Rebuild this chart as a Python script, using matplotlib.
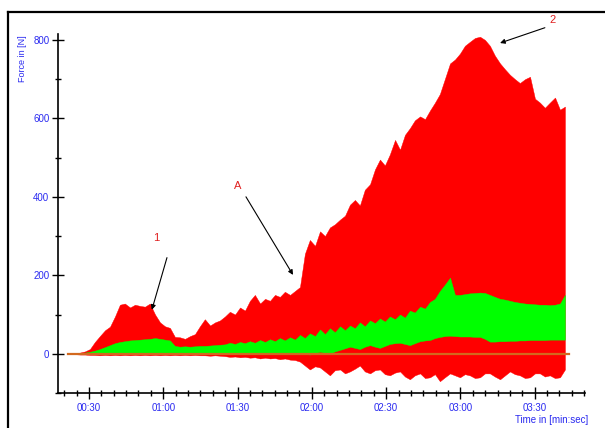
import matplotlib
matplotlib.use("Agg")
import matplotlib.pyplot as plt
from matplotlib.ticker import MultipleLocator, FuncFormatter
from matplotlib.lines import Line2D

plt.rcParams['font.family'] = ['Liberation Sans', 'DejaVu Sans']

# time in seconds
time_s = [21.5, 24.3, 26.4, 28.4, 30.4, 32.4, 34.4, 36.5, 38.5, 40.5,
          42.5, 44.5, 46.6, 48.6, 50.6, 52.6, 54.6, 56.7, 58.7, 60.7,
          62.7, 64.7, 66.7, 68.8, 70.8, 72.8, 74.8, 76.8, 78.9, 80.9,
          82.9, 84.9, 86.9, 89.0, 91.0, 93.0, 95.0, 97.0, 99.1, 101.1,
          103.1, 105.1, 107.1, 109.1, 111.2, 113.2, 115.2, 117.2, 119.2, 121.3,
          123.3, 125.3, 127.3, 129.3, 131.4, 133.4, 135.4, 137.4, 139.4, 141.4,
          143.5, 145.5, 147.5, 149.5, 151.5, 153.6, 155.6, 157.6, 159.6, 161.6,
          163.7, 165.7, 167.7, 169.7, 171.7, 173.7, 175.8, 177.8, 179.8, 181.8,
          183.8, 185.9, 187.9, 189.9, 191.9, 193.9, 196.0, 198.0, 200.0, 202.0,
          204.0, 206.1, 208.1, 210.1, 212.1, 214.1, 216.1, 218.2, 220.2, 222.2]

# red signal envelope (Force in N)
red_upper = [0, 1, 3, 6, 12, 30, 45, 60, 69, 95,
             125, 128, 118, 125, 122, 120, 128, 100, 80, 70,
             66, 43, 42, 38, 45, 50, 70, 88, 72, 80,
             85, 95, 107, 100, 118, 110, 135, 150, 128, 140,
             135, 150, 145, 158, 150, 160, 170, 255, 290, 275,
             312, 300, 322, 330, 342, 352, 380, 392, 378, 418,
             432, 470, 495, 480, 508, 545, 520, 558, 575, 595,
             605, 598, 620, 640, 662, 700, 740, 750, 765, 785,
             795, 805, 808, 800, 785, 760, 740, 725, 711, 700,
             690, 700, 706, 650, 640, 627, 640, 653, 622, 630]
red_lower = [0, -1, -2, -2, -3, -3, -4, -3, -4, -3,
             -4, -3, -4, -3, -4, -3, -4, -3, -4, -3,
             -4, -3, -4, -3, -4, -3, -4, -4, -5, -4,
             -5, -6, -8, -7, -9, -8, -10, -9, -12, -10,
             -12, -11, -14, -12, -15, -16, -20, -30, -40, -32,
             -35, -45, -55, -42, -40, -50, -45, -38, -30, -45,
             -50, -42, -40, -52, -55, -48, -45, -58, -65, -55,
             -50, -62, -60, -52, -70, -60, -50, -55, -60, -52,
             -55, -62, -60, -50, -50, -58, -65, -55, -45, -52,
             -55, -62, -60, -50, -50, -58, -55, -62, -60, -40]

# green band (Force in N)
green_upper = [0, 0, 1, 3, 5, 8, 12, 17, 22, 27,
               30, 32, 34, 35, 36, 37, 38, 40, 38, 36,
               34, 20, 18, 19, 18, 19, 20, 20, 21, 22,
               23, 24, 28, 25, 30, 27, 32, 28, 35, 30,
               37, 32, 40, 34, 42, 36, 48, 40, 52, 45,
               62, 50, 65, 55, 70, 60, 72, 65, 80, 70,
               85, 78, 90, 82, 95, 88, 100, 92, 110, 105,
               120, 115, 132, 140, 160, 176, 194, 150, 150, 152,
               154, 155, 156, 155, 150, 145, 140, 138, 135, 132,
               130, 128, 127, 126, 125, 125, 124, 125, 128, 150]
green_lower = [0, 0, 0, 0, 0, 0, 0, 0, 0, 0,
               0, 0, 0, 0, 0, 0, 0, 0, 0, 0,
               0, 0, 0, 0, 0, 0, 0, 0, 0, 0,
               0, 0, 0, 0, 0, 0, 0, 0, 0, 0,
               0, 0, 0, 0, 1, 2, 3, 0, -2, 2,
               5, 2, 0, 6, 10, 14, 18, 15, 12, 18,
               22, 18, 15, 20, 25, 27, 28, 25, 22, 27,
               32, 34, 35, 40, 43, 45, 46, 45, 44, 44,
               44, 43, 43, 38, 31, 31, 32, 32, 33, 33,
               34, 34, 35, 35, 35, 35, 36, 36, 36, 36]

zero_line_t = [21.5, 224.0]
zero_line_v = [0, 0]

y_major = [0, 200, 400, 600, 800]

W, H = 605, 428
fig = plt.figure(figsize=(W / 100, H / 100), dpi=100)
fig.patch.set_facecolor('white')

ax_left, ax_right, ax_top, ax_bottom = 58, 585, 34, 393
ax = fig.add_axes([ax_left / W, 1 - ax_bottom / H,
                   (ax_right - ax_left) / W, (ax_bottom - ax_top) / H])

ax.fill_between(time_s, red_lower, red_upper, color='#ff0000', lw=0.3, zorder=2)
ax.fill_between(time_s, green_lower, green_upper, color='#00ff00', lw=0.3, zorder=3)
ax.plot(zero_line_t, zero_line_v, color='#d2691e', lw=1.6, zorder=4)

ax.set_xlim(17.5, 230.3)
ax.set_ylim(-100, 815)

for s in ['top', 'right']:
    ax.spines[s].set_visible(False)
for s in ['left', 'bottom']:
    ax.spines[s].set_linewidth(1.2)

blue = '#2a2af0'
ax.set_yticks(y_major)
ax.yaxis.set_minor_locator(MultipleLocator(100))
ax.xaxis.set_major_locator(MultipleLocator(30))
ax.xaxis.set_minor_locator(MultipleLocator(5))
ax.xaxis.set_major_formatter(FuncFormatter(lambda v, p: f"{int(v // 60):02d}:{int(v % 60):02d}"))
ax.tick_params(axis='both', which='major', direction='inout', length=8.5, width=1.0,
               labelsize=7, labelcolor=blue, pad=2)
ax.tick_params(axis='both', which='minor', direction='inout', length=5, width=1.0)
ax.tick_params(axis='x', which='major', pad=3)

fig.text(23 / W, 1 - 59 / H, 'Force in [N]', rotation=90, color=blue, fontsize=6.5,
         ha='center', va='center')
fig.text(552 / W, 1 - 420 / H, 'Time in [min:sec]', color=blue, fontsize=7,
         ha='center', va='center')

arrow = dict(arrowstyle='-|>', color='black', lw=0.8, mutation_scale=7, shrinkA=0, shrinkB=0)
ax.annotate('', xy=(55.4, 112), xytext=(61.5, 245), arrowprops=arrow)
ax.text(57.0, 296, '1', color='#e02020', fontsize=8, ha='center', va='center')
ax.annotate('', xy=(112.4, 201), xytext=(93.4, 400), arrowprops=arrow)
ax.text(90.2, 428, 'A', color='#e02020', fontsize=8, ha='center', va='center')
ax.annotate('', xy=(196.0, 792), xytext=(214.1, 831), arrowprops=arrow,
            annotation_clip=False)
ax.text(217.3, 851, '2', color='#e02020', fontsize=8, ha='center', va='center', clip_on=False)

# slide frame
fig.add_artist(Line2D([8 / W, 8 / W], [0, 1 - 12 / H], transform=fig.transFigure,
                      color='black', lw=1.6))
fig.add_artist(Line2D([8 / W, 1], [1 - 12 / H, 1 - 12 / H], transform=fig.transFigure,
                      color='black', lw=1.6))

fig.savefig('out.png', dpi=100)
